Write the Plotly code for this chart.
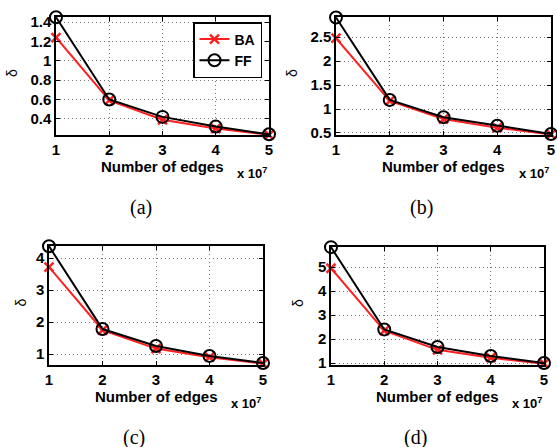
import plotly.graph_objects as go

W, H = 557, 447

edges = [1, 2, 3, 4, 5]  # x 10^7
ba_a = [1.24, 0.59, 0.39, 0.30, 0.235]
ff_a = [1.45, 0.60, 0.42, 0.32, 0.24]
ba_b = [2.48, 1.17, 0.79, 0.61, 0.47]
ff_b = [2.91, 1.19, 0.83, 0.65, 0.48]
ba_c = [3.72, 1.75, 1.17, 0.90, 0.70]
ff_c = [4.37, 1.78, 1.25, 0.94, 0.72]
ba_d = [4.95, 2.35, 1.55, 1.22, 0.97]
ff_d = [5.83, 2.40, 1.67, 1.29, 1.00]

panel_labels = ["(a)", "(b)", "(c)", "(d)"]
yticks = [[0.4, 0.6, 0.8, 1, 1.2, 1.4], [0.5, 1, 1.5, 2, 2.5], [1, 2, 3, 4], [1, 2, 3, 4, 5]]
ytext = [["0.4", "0.6", "0.8", "1", "1.2", "1.4"], ["0.5", "1", "1.5", "2", "2.5"],
         ["1", "2", "3", "4"], ["1", "2", "3", "4", "5"]]
yranges = [[0.233, 1.452], [0.458, 2.92], [0.656, 4.378], [0.917, 5.836]]
series = [(ba_a, ff_a), (ba_b, ff_b), (ba_c, ff_c), (ba_d, ff_d)]

# plot boxes in pixels: left, right, top, bottom
boxes = [(56, 269, 17, 135), (336, 551, 17, 135), (49, 263, 246, 365), (331, 544, 247, 365)]
delta_x = [12, 292, 20, 298]

def px(x):
    return x / W

def py(y):
    return 1 - y / H

fig = go.Figure()
FONT = "Liberation Sans, Arial, sans-serif"
annotations = []

def ann(text, x, y, size, family=FONT, angle=0):
    return dict(text=text, x=px(x), y=py(y), xref="paper", yref="paper",
                xanchor="center", yanchor="middle", showarrow=False, textangle=angle,
                font=dict(family=family, size=size, color="black"))

for i, ((ba, ff), box) in enumerate(zip(series, boxes)):
    l, r, t, b = box
    sfx = "" if i == 0 else str(i + 1)
    xa, ya = "x" + sfx, "y" + sfx
    fig.add_trace(go.Scatter(x=edges, y=ba, mode="lines+markers", name="BA",
                             line=dict(color="#ff2020", width=2),
                             marker=dict(symbol="x-thin", size=9, line=dict(color="#ff2020", width=2.5)),
                             xaxis=xa, yaxis=ya, cliponaxis=False, showlegend=(i == 0)))
    fig.add_trace(go.Scatter(x=edges, y=ff, mode="lines+markers", name="FF",
                             line=dict(color="black", width=2),
                             marker=dict(symbol="circle-open", size=12, color="black", line=dict(color="black", width=2)),
                             xaxis=xa, yaxis=ya, cliponaxis=False, showlegend=(i == 0)))
    axcommon = dict(showline=True, linecolor="black", linewidth=1.5, mirror="ticks",
                    ticks="inside", ticklen=4, tickcolor="black", automargin=False,
                    showgrid=True, gridcolor="#777777", griddash="1px,3px", gridwidth=1,
                    zeroline=False, tickfont=dict(family=FONT, size=15, color="black", weight="bold"))
    fig.update_layout(**{
        "xaxis" + sfx: dict(domain=[px(l), px(r)], anchor=ya, range=[1, 5],
                            tickvals=edges, ticktext=[str(e) for e in edges], **axcommon),
        "yaxis" + sfx: dict(domain=[py(b), py(t)], anchor=xa, range=yranges[i],
                            tickvals=yticks[i], ticktext=ytext[i], **axcommon),
    })
    cx = (l + r) / 2
    annotations.append(ann("<b>Number of edges</b>", cx, b + 31, 15))
    annotations.append(ann("<b>x 10<sup>7</sup></b>", r - 17, b + 38, 13))
    annotations.append(ann(panel_labels[i], cx - 22, b + 72, 20, family="Liberation Serif, Times New Roman, serif"))
    annotations.append(ann("δ", delta_x[i], (t + b) / 2 - 3, 14, angle=-90))

fig.update_layout(
    width=W, height=H, margin=dict(l=0, r=0, t=0, b=0, autoexpand=False),
    plot_bgcolor="white", paper_bgcolor="white",
    annotations=annotations,
    legend=dict(x=px(193), y=py(22), xanchor="left", yanchor="top",
                bgcolor="white", bordercolor="black", borderwidth=1.5,
                font=dict(family=FONT, size=14, color="black", weight="bold"),
                itemwidth=30, tracegroupgap=0),
)
fig.write_html("out.html", config={"displayModeBar": False},
               post_script="document.body.style.margin='0';document.body.style.overflow='hidden';")
